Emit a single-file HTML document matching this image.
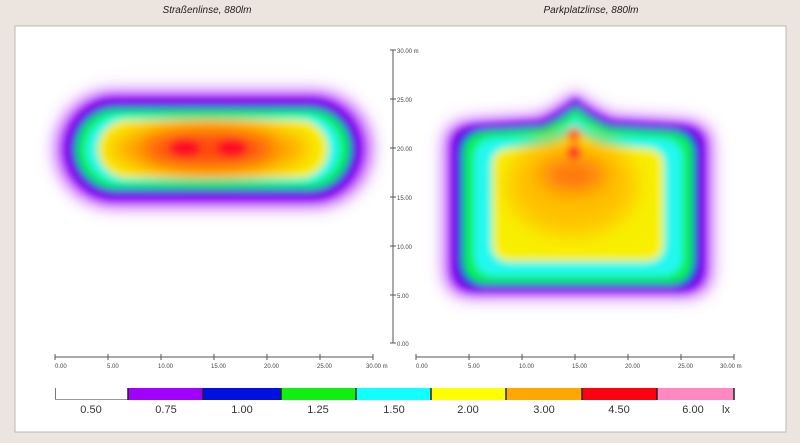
<!DOCTYPE html>
<html><head><meta charset="utf-8"><style>
html,body{margin:0;padding:0;background:#ece5df;width:800px;height:443px;overflow:hidden}
svg{display:block}
text{font-family:"Liberation Sans",sans-serif}
</style></head><body>
<svg width="800" height="443" viewBox="0 0 800 443">
<defs>
<filter id="b" x="-20%" y="-20%" width="140%" height="140%"><feGaussianBlur stdDeviation="4"/></filter>
<filter id="b2" x="-20%" y="-20%" width="140%" height="140%"><feGaussianBlur stdDeviation="7"/></filter>
<filter id="b3" x="-50%" y="-50%" width="200%" height="200%"><feGaussianBlur stdDeviation="10"/></filter>
<path id="rp" d="M444 145 Q444 122 472 120 L538 116 Q560 106 575 92 Q590 106 614 116 L684 120 Q712 122 712 145 L712 268 Q712 297 684 297 L472 297 Q444 297 444 268 Z"/>
</defs>
<rect x="15" y="26" width="771" height="406" fill="#fff" stroke="#bdb8b3"/>
<text x="207" y="13" font-size="10" font-style="italic" text-anchor="middle" fill="#222">Straßenlinse, 880lm</text>
<text x="591" y="13" font-size="10" font-style="italic" text-anchor="middle" fill="#222">Parkplatzlinse, 880lm</text>

<!-- left -->
<g filter="url(#b)">
<rect x="55" y="91" width="317" height="116" rx="58" fill="#c050ff" filter="url(#b2)"/>
<rect x="62" y="96" width="302" height="106" rx="53" fill="#8a00f0"/>
<rect x="70" y="104" width="286" height="90" rx="45" fill="#0010e0"/>
<rect x="76" y="109" width="274" height="80" rx="40" fill="#10f040"/>
<rect x="86" y="115" width="254" height="68" rx="34" fill="#20f8f0"/>
<rect x="98" y="120" width="230" height="58" rx="29" fill="#f8f000"/>
<ellipse cx="210" cy="149" rx="100" ry="25" fill="#ffa000" filter="url(#b3)"/>
<ellipse cx="208" cy="149" rx="65" ry="17" fill="#ff4010" filter="url(#b3)"/>
<ellipse cx="185" cy="148" rx="16" ry="10" fill="#ff1020"/>
<ellipse cx="232" cy="148" rx="16" ry="10" fill="#ff1020"/>
</g>

<!-- right -->
<g filter="url(#b)">
<use href="#rp" fill="#c050ff" filter="url(#b2)"/>
<use href="#rp" fill="#8a00f0" transform="translate(579 200) scale(0.96) translate(-579 -200)"/>
<use href="#rp" fill="#0010e0" transform="translate(579 200) scale(0.91) translate(-579 -200)"/>
<use href="#rp" fill="#10f040" transform="translate(579 202) scale(0.86) translate(-579 -202)"/>
<use href="#rp" fill="#20f8f0" transform="translate(579 202) scale(0.78) translate(-579 -202)"/>
<use href="#rp" fill="#f8f000" transform="translate(578 198) scale(0.64) translate(-578 -198)"/>
<ellipse cx="572" cy="185" rx="65" ry="50" fill="#ffc000" filter="url(#b3)"/>
<ellipse cx="573" cy="175" rx="32" ry="15" fill="#ff6a10" filter="url(#b3)"/>
<circle cx="574" cy="135" r="7" fill="#ff6010"/>
<circle cx="574" cy="152" r="7" fill="#ff1020"/>
</g>

<!-- vertical axis -->
<g stroke="#555" stroke-width="1">
<line x1="393" y1="50" x2="393" y2="343"/>
<line x1="390" y1="50" x2="396" y2="50"/><line x1="390" y1="99" x2="396" y2="99"/><line x1="390" y1="148" x2="396" y2="148"/><line x1="390" y1="197" x2="396" y2="197"/><line x1="390" y1="246" x2="396" y2="246"/><line x1="390" y1="295" x2="396" y2="295"/><line x1="390" y1="343" x2="396" y2="343"/>
</g>
<g font-size="6" fill="#444">
<text x="397" y="53">30.00 m</text><text x="397" y="102">25.00</text><text x="397" y="151">20.00</text><text x="397" y="200">15.00</text><text x="397" y="249">10.00</text><text x="397" y="298">5.00</text><text x="397" y="346">0.00</text>
</g>

<!-- horizontal axes -->
<g stroke="#555" stroke-width="1">
<line x1="55" y1="357" x2="373" y2="357"/>
<line x1="416" y1="357" x2="734" y2="357"/>
<g id="tk"><line x1="55" y1="354" x2="55" y2="360"/><line x1="108" y1="354" x2="108" y2="360"/><line x1="161" y1="354" x2="161" y2="360"/><line x1="214" y1="354" x2="214" y2="360"/><line x1="267" y1="354" x2="267" y2="360"/><line x1="320" y1="354" x2="320" y2="360"/><line x1="373" y1="354" x2="373" y2="360"/></g>
<use href="#tk" transform="translate(361 0)"/>
</g>
<g font-size="6" fill="#444">
<text x="55" y="368">0.00</text><text x="107" y="368">5.00</text><text x="158" y="368">10.00</text><text x="211" y="368">15.00</text><text x="264" y="368">20.00</text><text x="317" y="368">25.00</text><text x="366" y="368">30.00 m</text>
<text x="416" y="368">0.00</text><text x="468" y="368">5.00</text><text x="519" y="368">10.00</text><text x="572" y="368">15.00</text><text x="625" y="368">20.00</text><text x="678" y="368">25.00</text><text x="720" y="368">30.00 m</text>
</g>

<!-- legend -->
<line x1="55.5" y1="388" x2="55.5" y2="400" stroke="#777"/>
<line x1="55" y1="399.5" x2="128" y2="399.5" stroke="#999"/>
<rect x="128" y="388" width="75" height="12" fill="#a000ff"/>
<rect x="203" y="388" width="78" height="12" fill="#0010e0"/>
<rect x="281" y="388" width="75" height="12" fill="#10f010"/>
<rect x="356" y="388" width="75" height="12" fill="#10ffff"/>
<rect x="431" y="388" width="75" height="12" fill="#ffff00"/>
<rect x="506" y="388" width="76" height="12" fill="#ffa800"/>
<rect x="582" y="388" width="75" height="12" fill="#ff0010"/>
<rect x="657" y="388" width="77" height="12" fill="#ff88c0"/>
<g stroke="#222" stroke-width="1.5">
<line x1="128" y1="388" x2="128" y2="400"/><line x1="203" y1="388" x2="203" y2="400"/><line x1="281" y1="388" x2="281" y2="400"/><line x1="356" y1="388" x2="356" y2="400"/><line x1="431" y1="388" x2="431" y2="400"/><line x1="506" y1="388" x2="506" y2="400"/><line x1="582" y1="388" x2="582" y2="400"/><line x1="657" y1="388" x2="657" y2="400"/><line x1="734" y1="388" x2="734" y2="400"/>
</g>
<g font-size="11" fill="#333" text-anchor="middle">
<text x="91" y="413">0.50</text><text x="166" y="413">0.75</text><text x="242" y="413">1.00</text><text x="318" y="413">1.25</text><text x="394" y="413">1.50</text><text x="468" y="413">2.00</text><text x="544" y="413">3.00</text><text x="619" y="413">4.50</text><text x="693" y="413">6.00</text><text x="726" y="413">lx</text>
</g>
</svg>
</body></html>
